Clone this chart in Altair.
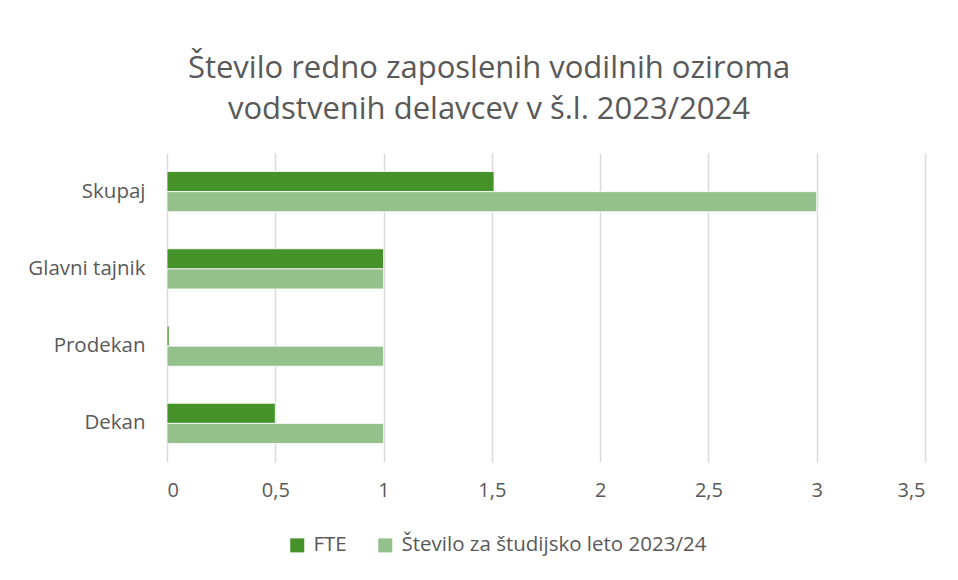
import altair as alt
import pandas as pd

categories = ["Skupaj", "Glavni tajnik", "Prodekan", "Dekan"]
fte = [1.51, 1.0, 0.01, 0.5]
stevilo = [3, 1, 1, 1]
series = ["FTE", "Število za študijsko leto 2023/24"]
colors = ["#46922A", "#94C18B"]
title_lines = ["Število redno zaposlenih vodilnih oziroma", "vodstvenih delavcev v š.l. 2023/2024"]

rows = []
for c, f, s in zip(categories, fte, stevilo):
    rows.append({"kategorija": c, "serija": series[0], "vrednost": f})
    rows.append({"kategorija": c, "serija": series[1], "vrednost": s})
df = pd.DataFrame(rows)

FONT = "Open Sans"
GREY = "#595959"

chart = alt.Chart(df).mark_bar(stroke="white", strokeWidth=0.8).encode(
    y=alt.Y("kategorija:N", sort=categories, title=None,
            scale=alt.Scale(paddingInner=0.48, paddingOuter=0.24),
            axis=alt.Axis(labelFontSize=20.5, labelColor=GREY, labelFont=FONT,
                          ticks=False, domain=False, labelPadding=22)),
    yOffset=alt.YOffset("serija:N", sort=series, scale=alt.Scale(paddingInner=0, paddingOuter=0)),
    x=alt.X("vrednost:Q", title=None,
            scale=alt.Scale(domain=[0, 3.5], nice=False),
            axis=alt.Axis(values=[0, 0.5, 1, 1.5, 2, 2.5, 3, 3.5],
                          labelExpr="replace(format(datum.value, '~g'), '.', ',')",
                          labelFontSize=20, labelColor=GREY, labelFont=FONT,
                          ticks=False, domain=False, labelPadding=18,
                          grid=True, gridColor="#D9D9D9", gridWidth=1.5)),
    color=alt.Color("serija:N", sort=series,
                    scale=alt.Scale(domain=series, range=colors),
                    legend=alt.Legend(title=None, orient="none", direction="horizontal",
                                      legendX=120, legendY=382,
                                      symbolType="square", symbolSize=196,
                                      symbolStrokeWidth=0,
                                      labelFontSize=20.5, labelColor=GREY, labelFont=FONT,
                                      labelLimit=600,
                                      columnPadding=28, labelOffset=6)),
).properties(
    width=758,
    height=309,
    title=alt.Title(title_lines, fontSize=31, font=FONT, color=GREY, fontWeight="normal",
                    lineHeight=41, anchor="middle", dx=-57, offset=27),
    padding={"left": 159, "top": 145, "right": 25, "bottom": 110},
    autosize=alt.AutoSizeParams(type="none"),
).configure_view(stroke=None)

chart.save("out.html", embed_options={"renderer": "svg", "actions": False})
